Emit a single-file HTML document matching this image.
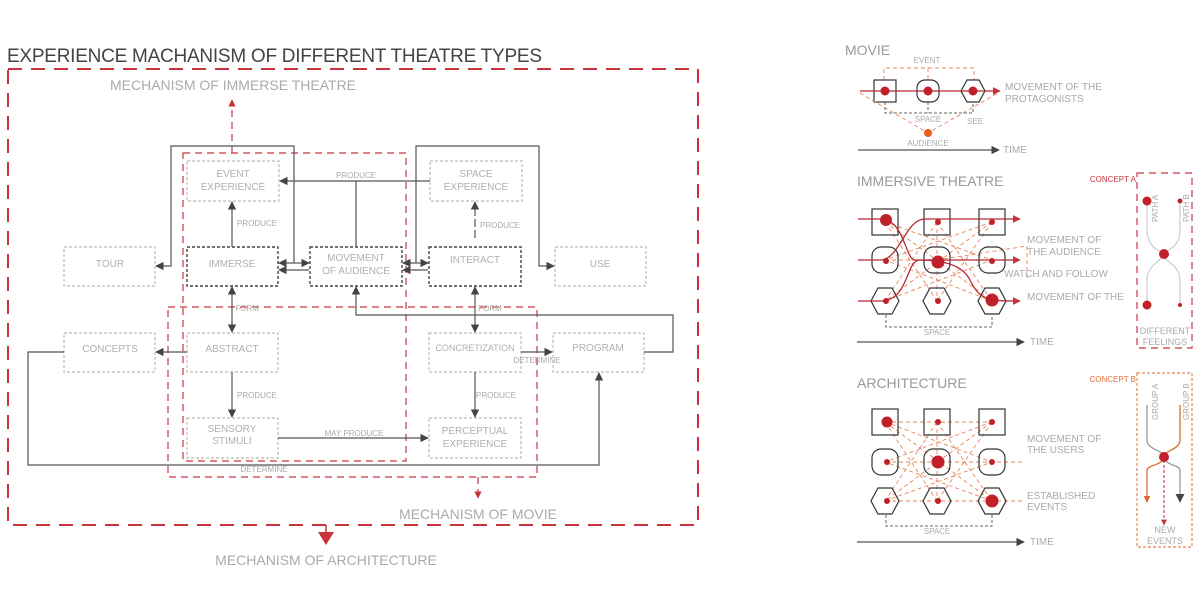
<!DOCTYPE html>
<html><head><meta charset="utf-8"><style>
html,body{margin:0;padding:0;background:#fff;}
svg{display:block;font-family:"Liberation Sans",sans-serif;}
.l{fill:#b0b0b0;font-size:10px;text-anchor:middle}
.s{fill:#aaa;font-size:8px;text-anchor:middle}
.g{stroke:#555;stroke-width:1.2;fill:none}
.bl{stroke:#bbb;stroke-width:1.2;fill:none;stroke-dasharray:3 2}
.bd{stroke:#444;stroke-width:1.4;fill:none;stroke-dasharray:3 2}
.rd{stroke:#c9343c;stroke-width:1.2;fill:none;stroke-dasharray:7 5}
.od{stroke:#e8855a;stroke-width:0.9;fill:none;stroke-dasharray:4 3}
.k{stroke:#333;stroke-width:1.2;fill:none}
.rl{stroke:#b52a33;stroke-width:1.3;fill:none}
.t{fill:#aaa;font-size:10px}
.big{fill:#aaa;font-size:14px;text-anchor:middle}
</style></head><body>
<svg width="1200" height="604" viewBox="0 0 1200 604">
<defs>
<marker id="a" viewBox="0 0 10 10" refX="9" refY="5" markerWidth="7" markerHeight="7" orient="auto-start-reverse"><path d="M0,0L10,5L0,10z" fill="#444"/></marker>
<marker id="r" viewBox="0 0 10 10" refX="9" refY="5" markerWidth="6" markerHeight="6" orient="auto"><path d="M0,0L10,5L0,10z" fill="#c9343c"/></marker>
<marker id="o" viewBox="0 0 10 10" refX="9" refY="5" markerWidth="5" markerHeight="5" orient="auto"><path d="M0,0L10,5L0,10z" fill="#e05a2a"/></marker>
</defs>
<text x="7" y="62" fill="#444" font-size="19" textLength="535">EXPERIENCE MACHANISM OF DIFFERENT THEATRE TYPES</text>
<rect x="8" y="69" width="690" height="456" stroke="#c9343c" stroke-width="2" fill="none" stroke-dasharray="14 9"/>
<rect x="183" y="153" width="223" height="308" class="rd"/>
<rect x="168" y="307" width="369" height="170" class="rd"/>
<path d="M232 153V100" class="rd" marker-end="url(#r)"/>
<text x="233" y="90" class="big">MECHANISM OF IMMERSE THEATRE</text>
<path d="M478 477V498" class="rd" stroke-dasharray="3 3" marker-end="url(#r)"/>
<text x="478" y="519" class="big">MECHANISM OF MOVIE</text>
<path d="M326 525V540" stroke="#c9343c" stroke-width="1.5"/><path d="M318 532L334 532L326 545z" fill="#c9343c"/>
<text x="326" y="565" class="big">MECHANISM OF ARCHITECTURE</text>
<!-- boxes -->
<rect x="187" y="161" width="92" height="40" class="bl"/><text x="233" y="177" class="l">EVENT</text><text x="233" y="190" class="l">EXPERIENCE</text>
<rect x="430" y="161" width="92" height="40" class="bl"/><text x="476" y="177" class="l">SPACE</text><text x="476" y="190" class="l">EXPERIENCE</text>
<rect x="64" y="247" width="91" height="39" class="bl"/><text x="110" y="267" class="l">TOUR</text>
<rect x="187" y="247" width="91" height="39" class="bd"/><text x="232" y="267" class="l">IMMERSE</text>
<rect x="310" y="247" width="92" height="39" class="bd"/><text x="356" y="261" class="l">MOVEMENT</text><text x="356" y="274" class="l">OF AUDIENCE</text>
<rect x="429" y="247" width="92" height="39" class="bd"/><text x="475" y="263" class="l">INTERACT</text>
<rect x="555" y="247" width="91" height="39" class="bl"/><text x="600" y="267" class="l">USE</text>
<rect x="64" y="333" width="91" height="39" class="bl"/><text x="110" y="352" class="l">CONCEPTS</text>
<rect x="187" y="333" width="91" height="39" class="bl"/><text x="232" y="352" class="l">ABSTRACT</text>
<rect x="429" y="333" width="92" height="39" class="bl"/><text x="475" y="351" class="l" style="font-size:9px">CONCRETIZATION</text>
<rect x="553" y="333" width="91" height="39" class="bl"/><text x="598" y="351" class="l">PROGRAM</text>
<rect x="187" y="418" width="91" height="40" class="bl"/><text x="232" y="432" class="l">SENSORY</text><text x="232" y="444" class="l">STIMULI</text>
<rect x="429" y="418" width="92" height="40" class="bl"/><text x="475" y="434" class="l">PERCEPTUAL</text><text x="475" y="447" class="l">EXPERIENCE</text>
<!-- connectors -->
<path d="M294 263V146H171V266H156" class="g" marker-end="url(#a)"/>
<path d="M294 263H309" class="g" marker-end="url(#a)"/><path d="M309 270H279" class="g" marker-end="url(#a)"/>
<path d="M279 263H294" class="g" marker-start="url(#a)"/>
<path d="M416 263V146H539V266H554" class="g" marker-end="url(#a)"/>
<path d="M416 263H428" class="g" marker-end="url(#a)"/><path d="M428 270H403" class="g" marker-end="url(#a)"/>
<path d="M403 263H416" class="g" marker-start="url(#a)"/>
<path d="M430 181H280" class="g" marker-end="url(#a)"/><path d="M356 181V247" class="g"/>
<text x="356" y="178" class="s">PRODUCE</text>
<path d="M232 247V202" class="g" marker-end="url(#a)"/><text x="257" y="226" class="s">PRODUCE</text>
<path d="M475 238V202" class="g" stroke-dasharray="8 3" marker-end="url(#a)"/><text x="500" y="228" class="s">PRODUCE</text>
<path d="M232 287V332" class="g" marker-start="url(#a)" marker-end="url(#a)"/><text x="247" y="311" class="s">FORM</text>
<path d="M475 287V332" class="g" marker-start="url(#a)" marker-end="url(#a)"/><text x="490" y="311" class="s">FORM</text>
<path d="M644 352H673V315H356V287" class="g" marker-end="url(#a)"/>
<path d="M521 352H552" class="g" marker-end="url(#a)"/><text x="537" y="363" class="s">DETERMINE</text>
<path d="M187 352H156" class="g" marker-end="url(#a)"/>
<path d="M232 372V417" class="g" marker-end="url(#a)"/><text x="257" y="398" class="s">PRODUCE</text>
<path d="M475 372V417" class="g" marker-end="url(#a)"/><text x="496" y="398" class="s">PRODUCE</text>
<path d="M278 438H428" class="g" marker-end="url(#a)"/><text x="354" y="436" class="s">MAY PRODUCE</text>
<path d="M64 352H28V465H599V373" class="g" marker-end="url(#a)"/><text x="264" y="472" class="s">DETERMINE</text>

<!-- MOVIE -->
<text x="845" y="55" fill="#999" font-size="14">MOVIE</text>
<text x="927" y="63" class="s">EVENT</text>
<path d="M884 80V68H974V80M928 68V80" class="od" stroke="#d88"/>
<path d="M885 102V113H973V102M928 102V113" stroke="#666" stroke-dasharray="3 2" fill="none"/>
<rect x="874" y="80" width="22" height="22" class="k"/>
<rect x="917" y="80" width="22" height="22" rx="8" class="k"/>
<path d="M967 80h12l6 11-6 11h-12l-6-11z" class="k"/>
<path d="M860 91H1000" class="rl" marker-end="url(#r)"/>
<circle cx="885" cy="91" r="4.5" fill="#c0202a"/><circle cx="928" cy="91" r="4.5" fill="#c0202a"/><circle cx="973" cy="91" r="4.5" fill="#c0202a"/>
<path d="M860 93L928 133L998 93" class="od"/><circle cx="928" cy="133" r="4" fill="#e8601a"/>
<text x="1005" y="90" class="t">MOVEMENT OF THE</text><text x="1005" y="102" class="t">PROTAGONISTS</text>
<text x="928" y="122" class="s">SPACE</text><text x="975" y="124" class="s">SEE</text>
<text x="928" y="146" class="s">AUDIENCE</text>
<path d="M858 150H999" class="g" marker-end="url(#a)"/><text x="1003" y="153" class="t">TIME</text>

<!-- IMMERSIVE -->
<text x="857" y="186" fill="#999" font-size="14">IMMERSIVE THEATRE</text>
<g class="od">
<path d="M885 222L992 301M992 222L885 301M885 222L937 301M937 222L885 301M937 222L992 301M992 222L937 301M885 260L992 260M937 222V301M885 222L992 260M992 222L885 260M885 301L992 260M992 301L885 260M937 260L1027 246M1027 246V280"/>
</g>
<g class="k">
<rect x="872" y="209" width="26" height="26"/><rect x="924" y="209" width="26" height="26"/><rect x="979" y="209" width="26" height="26"/>
<rect x="872" y="247" width="26" height="26" rx="9"/><rect x="924" y="247" width="26" height="26" rx="9"/><rect x="979" y="247" width="26" height="26" rx="9"/>
<path d="M878 288h14l7 13-7 13h-14l-7-13z"/><path d="M930 288h14l7 13-7 13h-14l-7-13z"/><path d="M985 288h14l7 13-7 13h-14l-7-13z"/>
</g>
<path d="M886 315V327H992V315" stroke="#666" stroke-dasharray="3 2" fill="none"/>
<path d="M858 219H880C905 219 905 260 915 260C930 260 960 260 970 280C980 301 990 301 1020 301" class="rl" marker-end="url(#r)"/>
<path d="M858 301H880C910 301 905 260 920 260C940 260 950 260 960 260H1020" class="rl" marker-end="url(#r)"/>
<path d="M858 260H880C900 260 905 219 925 219H1020" class="rl" marker-end="url(#r)"/>
<circle cx="886" cy="220" r="6" fill="#c0202a"/><circle cx="938" cy="222" r="3" fill="#c0202a"/><circle cx="992" cy="222" r="3" fill="#c0202a"/>
<circle cx="886" cy="261" r="3" fill="#c0202a"/><circle cx="938" cy="262" r="6.5" fill="#c0202a"/><circle cx="992" cy="261" r="3" fill="#c0202a"/>
<circle cx="886" cy="301" r="3" fill="#c0202a"/><circle cx="938" cy="301" r="3" fill="#c0202a"/><circle cx="992" cy="300" r="6.5" fill="#c0202a"/>
<text x="1027" y="243" class="t">MOVEMENT OF</text><text x="1027" y="255" class="t">THE AUDIENCE</text>
<text x="1004" y="277" class="t">WATCH AND FOLLOW</text><text x="1027" y="300" class="t">MOVEMENT OF THE</text>
<text x="937" y="335" class="s">SPACE</text>
<path d="M857 342H1024" class="g" marker-end="url(#a)"/><text x="1030" y="345" class="t">TIME</text>
<rect x="1137" y="173" width="55" height="175" class="rd" stroke-dasharray="3 2"/>
<text x="1136" y="182" fill="#c9343c" font-size="8" text-anchor="end">CONCEPT A</text>
<path d="M1147 202V230C1147 250 1163 250 1163 255C1163 260 1147 265 1147 280V305M1180 202V230C1180 250 1163 250 1163 255C1163 260 1180 265 1180 280V305" stroke="#ccc" stroke-width="1.2" fill="none"/>
<circle cx="1147" cy="201" r="4.5" fill="#c0202a"/><circle cx="1180" cy="201" r="2.5" fill="#c0202a"/>
<circle cx="1164" cy="254" r="5" fill="#c0202a"/><circle cx="1147" cy="305" r="4.5" fill="#c0202a"/><circle cx="1180" cy="305" r="2" fill="#c0202a"/>
<text transform="translate(1158 222) rotate(-90)" class="s" style="text-anchor:start">PATH A</text>
<text transform="translate(1189 222) rotate(-90)" class="s" style="text-anchor:start">PATH B</text>
<text x="1165" y="334" class="s" style="font-size:9px">DIFFERENT</text><text x="1165" y="345" class="s" style="font-size:9px">FEELINGS</text>

<!-- ARCHITECTURE -->
<text x="857" y="388" fill="#999" font-size="14">ARCHITECTURE</text>
<g class="od">
<path d="M885 422L992 501M992 422L885 501M885 422L937 501M937 422L885 501M937 422L992 501M992 422L937 501M885 422H992M885 462H1022M885 501H1022M937 422V501M885 422L992 462M992 422L885 462M885 501L992 462M992 501L885 462"/>
</g>
<g class="k">
<rect x="872" y="409" width="26" height="26"/><rect x="924" y="409" width="26" height="26"/><rect x="979" y="409" width="26" height="26"/>
<rect x="872" y="449" width="26" height="26" rx="9"/><rect x="924" y="449" width="26" height="26" rx="9"/><rect x="979" y="449" width="26" height="26" rx="9"/>
<path d="M878 488h14l7 13-7 13h-14l-7-13z"/><path d="M930 488h14l7 13-7 13h-14l-7-13z"/><path d="M985 488h14l7 13-7 13h-14l-7-13z"/>
</g>
<path d="M886 515V526H992V515" stroke="#666" stroke-dasharray="3 2" fill="none"/>
<circle cx="887" cy="422" r="5.5" fill="#c0202a"/><circle cx="938" cy="422" r="3" fill="#c0202a"/><circle cx="992" cy="422" r="3" fill="#c0202a"/>
<circle cx="887" cy="462" r="3" fill="#c0202a"/><circle cx="938" cy="462" r="6.5" fill="#c0202a"/><circle cx="992" cy="462" r="3" fill="#c0202a"/>
<circle cx="887" cy="501" r="3" fill="#c0202a"/><circle cx="938" cy="501" r="3" fill="#c0202a"/><circle cx="992" cy="501" r="6.5" fill="#c0202a"/>
<text x="1027" y="442" class="t">MOVEMENT OF</text><text x="1027" y="453" class="t">THE USERS</text>
<text x="1027" y="499" class="t">ESTABLISHED</text><text x="1027" y="510" class="t">EVENTS</text>
<text x="937" y="534" class="s">SPACE</text>
<path d="M857 542H1024" class="g" marker-end="url(#a)"/><text x="1030" y="545" class="t">TIME</text>
<rect x="1137" y="373" width="55" height="174" stroke="#e8855a" stroke-width="1.2" fill="none" stroke-dasharray="3 2"/>
<text x="1136" y="382" fill="#e0703a" font-size="8" text-anchor="end">CONCEPT B</text>
<path d="M1147 405V440C1147 450 1164 450 1164 457C1164 465 1180 465 1180 470V502" stroke="#999" stroke-width="1.3" fill="none" marker-end="url(#a)"/>
<path d="M1180 405V440C1180 450 1164 450 1164 457C1164 465 1147 465 1147 470V502" stroke="#e06a30" stroke-width="1.3" fill="none" marker-end="url(#o)"/>
<path d="M1164 460V525" stroke="#c0202a" stroke-dasharray="3 2" fill="none" marker-end="url(#r)"/>
<circle cx="1164" cy="457" r="5" fill="#c0202a"/>
<text transform="translate(1158 420) rotate(-90)" class="s" style="text-anchor:start">GROUP A</text>
<text transform="translate(1189 420) rotate(-90)" class="s" style="text-anchor:start">GROUP B</text>
<text x="1165" y="533" class="s" style="font-size:9px">NEW</text><text x="1165" y="544" class="s" style="font-size:9px">EVENTS</text>
</svg>
</body></html>
